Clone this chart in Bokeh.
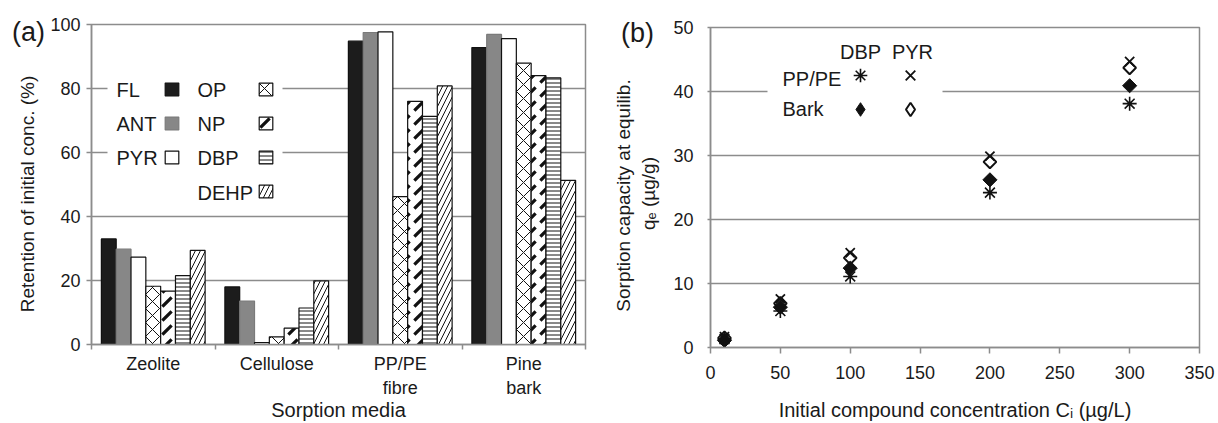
import numpy as np
from bokeh.plotting import figure
from bokeh.layouts import row
from bokeh.models import (Range1d, FixedTicker, Label, Legend, LegendItem,
                          BoxAnnotation, ColumnDataSource)
from bokeh.embed import file_html
from bokeh.resources import INLINE

# ---------------- data: panel (a) ----------------
media = ["Zeolite", "Cellulose", "PP/PE\nfibre", "Pine\nbark"]
compounds = ["FL", "ANT", "PYR", "OP", "NP", "DBP", "DEHP"]
FL = [33.0, 18.0, 94.8, 92.8]
ANT = [29.8, 13.6, 97.5, 96.9]
PYR = [27.3, 0.6, 97.7, 95.6]
OP = [18.2, 2.4, 46.2, 87.9]
NP = [16.7, 5.1, 76.0, 84.0]
DBP = [21.5, 11.4, 71.3, 83.3]
DEHP = [29.4, 19.9, 80.8, 51.3]
retention = [FL, ANT, PYR, OP, NP, DBP, DEHP]
y_ticks_a = [0, 20, 40, 60, 80, 100]

# ---------------- data: panel (b) ----------------
conc = [10, 50, 100, 200, 300]
dbp_pppe = [1.3, 5.7, 11.1, 24.2, 38.1]
pyr_pppe = [1.7, 7.6, 14.8, 29.9, 44.7]
dbp_bark = [1.1, 6.3, 12.4, 26.2, 40.9]
pyr_bark = [1.5, 6.9, 14.0, 29.0, 43.7]
x_ticks_b = [0, 50, 100, 150, 200, 250, 300, 350]
y_ticks_b = [0, 10, 20, 30, 40, 50]

FONT = "Liberation Sans"
TXT = "#1a1a1a"
GRID = "#8c8c8c"
H = 423

styles = {
    "FL": dict(fill_color="#1c1c1c", line_color="#111111", hp=None),
    "ANT": dict(fill_color="#878787", line_color="#7a7a7a", hp=None),
    "PYR": dict(fill_color="white", line_color="#111111", hp=None),
    "OP": dict(fill_color="white", line_color="#111111", hp="diagonal_cross", hs=14, hw=1),
    "NP": dict(fill_color="white", line_color="#111111", hp="right_diagonal_dash", hs=14, hw=3.2),
    "DBP": dict(fill_color="white", line_color="#111111", hp="horizontal_line", hs=4, hw=1),
    "DEHP": dict(fill_color="white", line_color="#111111", hp="right_diagonal_line", hs=10, hw=1),
}


def no_align(p):
    try:
        p.frame_align = False
    except Exception:
        pass


def style_axis(ax, size="18px"):
    ax.axis_line_color = GRID
    ax.axis_line_width = 1.5
    ax.major_tick_line_color = GRID
    ax.major_tick_line_width = 1.5
    ax.minor_tick_line_color = None
    ax.major_label_text_font = FONT
    ax.major_label_text_font_size = size
    ax.major_label_text_color = TXT
    ax.axis_label_text_font = FONT
    ax.axis_label_text_font_style = "normal"
    ax.axis_label_text_color = TXT


def lab(p, X, Y, text, fx, fy, size="20px", align="left", angle=0.0, base="middle"):
    p.add_layout(Label(x=X - fx, y=fy - Y, x_units="screen", y_units="screen", text=text,
                       text_font=FONT, text_font_size=size, text_color=TXT,
                       text_align=align, text_baseline=base, angle=angle))


def helper(width):
    h = figure(width=width, height=H, x_range=Range1d(0, 1), y_range=Range1d(0, 1),
               x_axis_location=None, y_axis_location=None, min_border=0, title=None,
               output_backend="svg", toolbar_location=None)
    h.outline_line_color = None
    h.grid.visible = False
    no_align(h)
    return h


# ---------------- left margin helper (a) ----------------
h1 = helper(47)
lab(h1, 28, 31, "(a)", 0, H, size="27px", align="center")
lab(h1, 27, 193.5, "Retention of initial conc. (%)", 0, H, size="19px",
    align="center", angle=np.pi / 2)

# ================= panel (a) =================
p1 = figure(width=558, height=H, x_range=Range1d(0, 4), y_range=Range1d(0, 100),
            output_backend="svg", toolbar_location=None, title=None,
            min_border_left=44, min_border_right=20, min_border_top=24, min_border_bottom=78)
no_align(p1)
p1.outline_line_color = GRID
p1.outline_line_width = 1.5
p1.xgrid.visible = False
p1.ygrid.grid_line_color = GRID
p1.ygrid.grid_line_width = 1.5

xa = p1.xaxis[0]
style_axis(xa, "18px")
xa.ticker = FixedTicker(ticks=[i + 0.5 for i in range(len(media))],
                        minor_ticks=list(range(len(media) + 1)))
xa.major_label_overrides = {i + 0.5: m for i, m in enumerate(media)}
xa.major_tick_out = 0
xa.major_tick_in = 0
xa.minor_tick_line_color = GRID
xa.minor_tick_line_width = 1.5
xa.minor_tick_out = 5
xa.minor_tick_in = 0
xa.major_label_standoff = 4
xa.axis_label = "Sorption media"
xa.axis_label_text_font_size = "20px"
xa.axis_label_standoff = -2

ya = p1.yaxis[0]
style_axis(ya)
ya.ticker = FixedTicker(ticks=y_ticks_a)
ya.major_tick_out = 5
ya.major_tick_in = 0
ya.major_label_standoff = 6
p1.ygrid.ticker = FixedTicker(ticks=y_ticks_a)

bw = 0.12
bars = {}
for j, (name, vals) in enumerate(zip(compounds, retention)):
    xs = [i + 0.5 + (j - 3) * bw for i in range(len(media))]
    st = styles[name]
    src = ColumnDataSource(dict(x=xs, top=vals))
    kw = dict(fill_color=st["fill_color"], line_color=st["line_color"], line_width=1.2)
    if st["hp"]:
        kw.update(hatch_pattern=st["hp"], hatch_scale=st["hs"], hatch_weight=st["hw"],
                  hatch_color="#111111")
    bars[name] = p1.vbar(x="x", top="top", bottom=0, width=bw, source=src, **kw)

fx1, fy1 = 91, 345  # frame left / bottom in page pixels

p1.add_layout(BoxAnnotation(left=107 - fx1, right=282 - fx1, top=fy1 - 68, bottom=fy1 - 208,
                            left_units="screen", right_units="screen",
                            top_units="screen", bottom_units="screen",
                            fill_color="white", fill_alpha=1.0, line_color=None))

leg_kw = dict(orientation="vertical", glyph_width=17, glyph_height=16, label_width=0,
              label_height=0, label_standoff=0, label_text_font_size="1px", spacing=18,
              padding=0, margin=0, border_line_color=None, background_fill_alpha=0)
leg1 = Legend(items=[LegendItem(label="", renderers=[bars[n]]) for n in compounds[:3]],
              location=(163 - fx1, fy1 - 166), **leg_kw)
leg2 = Legend(items=[LegendItem(label="", renderers=[bars[n]]) for n in compounds[3:]],
              location=(257 - fx1, fy1 - 200), **leg_kw)
p1.add_layout(leg1)
p1.add_layout(leg2)

rows_y = [90, 124.5, 158.5, 193]
for k, n in enumerate(compounds[:3]):
    lab(p1, 116, rows_y[k], n, fx1, fy1)
for k, n in enumerate(compounds[3:]):
    lab(p1, 197, rows_y[k], n, fx1, fy1)

# ---------------- left margin helper (b) ----------------
h2 = helper(63)
hx2 = 605
lab(h2, 637, 32, "(b)", hx2, H, size="27px", align="center")
lab(h2, 623, 195, "Sorption capacity at equilib.", hx2, H, size="19px",
    align="center", angle=np.pi / 2)
lab(h2, 648, 193, "q\u2091 (\u00b5g/g)", hx2, H, size="19px",
    align="center", angle=np.pi / 2)

# ================= panel (b) =================
p2 = figure(width=550, height=H, x_range=Range1d(0, 350), y_range=Range1d(0, 50),
            output_backend="svg", toolbar_location=None, title=None,
            min_border_left=42, min_border_right=19, min_border_top=27, min_border_bottom=75)
no_align(p2)
p2.outline_line_color = GRID
p2.outline_line_width = 1.5
p2.xgrid.visible = False
p2.ygrid.grid_line_color = GRID
p2.ygrid.grid_line_width = 1.5

xb = p2.xaxis[0]
style_axis(xb)
xb.ticker = FixedTicker(ticks=x_ticks_b)
xb.major_tick_out = 6
xb.major_tick_in = 0
xb.major_label_standoff = 12
xb.axis_label = "Initial compound concentration C\u1d62 (\u00b5g/L)"
xb.axis_label_text_font_size = "20px"
xb.axis_label_standoff = 17

yb = p2.yaxis[0]
style_axis(yb)
yb.ticker = FixedTicker(ticks=y_ticks_b)
yb.major_tick_out = 3
yb.major_tick_in = 0
yb.major_label_standoff = 14
p2.ygrid.ticker = FixedTicker(ticks=y_ticks_b)

# diamond-shaped legend symbols, drawn small underneath the plotted markers
k_db = p2.scatter(conc, dbp_bark, marker="diamond", size=6, fill_color="#111111",
                  line_color="#111111", line_width=1)
k_pb = p2.scatter(conc, pyr_bark, marker="diamond", size=6, fill_color="white",
                  line_color="#111111", line_width=2)
r_pb = p2.scatter(conc, pyr_bark, marker="square", angle=np.pi / 4, size=9,
                  fill_color="white", line_color="#111111", line_width=2)
r_db = p2.scatter(conc, dbp_bark, marker="square", angle=np.pi / 4, size=10,
                  fill_color="#111111", line_color="#111111", line_width=1)
r_dp = p2.scatter(conc, dbp_pppe, marker="asterisk", size=14,
                  line_color="#111111", line_width=1.6)
r_pp = p2.scatter(conc, pyr_pppe, marker="x", size=13,
                  line_color="#111111", line_width=1.8)

fx2, fy2 = 710, 348.3
p2.add_layout(BoxAnnotation(left=767 - fx2, right=942 - fx2, top=fy2 - 40, bottom=fy2 - 128,
                            left_units="screen", right_units="screen",
                            top_units="screen", bottom_units="screen",
                            fill_color="white", fill_alpha=1.0, line_color=None))


def make_legb(items, cx):
    base = dict(orientation="vertical", label_width=0, label_height=0, label_standoff=0,
                label_text_font_size="1px", padding=0, margin=0, border_line_color=None,
                background_fill_alpha=0)
    try:
        g = 34
        return Legend(items=items, glyph_width=g, glyph_height=g, spacing=30 - g,
                      location=(cx - g / 2 - fx2, fy2 - (80 - g / 2 + 30 + g)), **base)
    except Exception:
        g = 30
        return Legend(items=items, glyph_width=g, glyph_height=g, spacing=0,
                      location=(cx - g / 2 - fx2, fy2 - (80 - g / 2 + 30 + g)), **base)


legb1 = make_legb([LegendItem(label="", renderers=[r_dp]),
                   LegendItem(label="", renderers=[k_db])], 860)
legb2 = make_legb([LegendItem(label="", renderers=[r_pp]),
                   LegendItem(label="", renderers=[k_pb])], 910)
p2.add_layout(legb1)
p2.add_layout(legb2)

lab(p2, 860, 53, "DBP", fx2, fy2, align="center")
lab(p2, 912, 53, "PYR", fx2, fy2, align="center")
lab(p2, 782, 80, "PP/PE", fx2, fy2)
lab(p2, 782, 110, "Bark", fx2, fy2)

layout = row(h1, p1, h2, p2)
open("out.html", "w").write(file_html(layout, INLINE))
